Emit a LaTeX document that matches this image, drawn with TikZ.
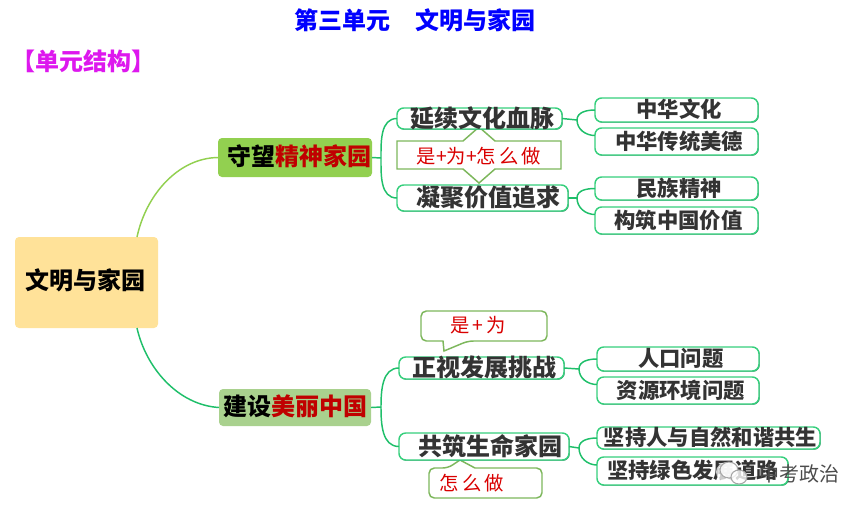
\documentclass[tikz,border=0pt]{standalone}
\usepackage{fontspec}
\setmainfont{Noto Sans CJK SC}
\usetikzlibrary{shadows,shapes.geometric}
\definecolor{kidgreen}{HTML}{35CF7C}
\definecolor{kiddark}{HTML}{24805A}
\definecolor{cbgreen}{HTML}{7DB75C}
\definecolor{rootfill}{HTML}{FFE299}
\definecolor{upfill}{HTML}{92D050}
\definecolor{lowfill}{HTML}{A9D18E}
\definecolor{linelow}{HTML}{1FBF6A}
\definecolor{darkred}{HTML}{C00000}
\definecolor{ink}{HTML}{333333}
\definecolor{magentatitle}{HTML}{DD18EE}
\newcommand{\T}[1]{\smash{\raisebox{-.36em}{#1}}}
\newcommand{\fa}{\fontsize{18}{20}\selectfont\bfseries}
\newcommand{\fb}{\fontsize{16}{18}\selectfont\bfseries}
\newcommand{\bx}[7]{\node[#1,minimum width={(#4-#3)*0.75pt},minimum height={(#6-#5)*0.75pt}] (#2) at ({(#3+#4)/2},{(#5+#6)/2}) {\T{#7}};}
\tikzset{
  x=0.75pt,y=-0.75pt,
  base/.style={inner sep=0pt,outer sep=0pt},
  kid/.style={base,draw=kidgreen,line width=1.1pt,fill=white,rounded corners=5pt,text=ink,
    general shadow={fill=kiddark,shadow xshift=.55pt,shadow yshift=-.55pt}},
  topic/.style={base,rounded corners=3pt},
  conn/.style={line width=1.1pt,draw=linelow},
  cb/.style={draw=cbgreen,line width=1.1pt,fill=white},
  redtxt/.style={base,text=red!85!black,font=\fontsize{14.5}{16}\selectfont},
}
\begin{document}
\begin{tikzpicture}
\useasboundingbox (0,0) rectangle (867,512);
% titles
\node[base,text=blue,font=\fa] (title) at (415,21) {\T{第三单元\hspace{1.08em}文明与家园}};
\node[base,text=magentatitle,font=\fa] (unit) at (84,62) {\T{【单元结构】}};
% topics
\bx{topic,fill=rootfill}{root}{15}{158}{237}{328}{\raisebox{-1.5pt}{\hspace*{-2pt}\fa\textcolor{black}{文明与家园}}}
\bx{topic,fill=upfill}{up}{218}{372}{138}{177}{\raisebox{-2.2pt}{\hspace*{6pt}\fa\textcolor{black}{守望}\textcolor{darkred}{精神家园}}}
\bx{topic,fill=lowfill}{low}{219}{371}{389}{426}{\raisebox{-2.6pt}{\fa\textcolor{black}{建设}\textcolor{darkred}{美丽中国}}}
% root connectors
\draw[line width=1.1pt,draw=upfill] ([xshift=-15.75pt]root.north east) .. controls (146,195) and (178,158) .. (up.west);
\draw[conn] ([xshift=-15.75pt]root.south east) .. controls (146,368) and (178,405) .. (low.west);
% callout behind nodes
\draw[cb] (397,141) -- (463,141) -- (479,127) -- (495,141) -- (561,141) -- (561,169) -- (495,169) -- (479,183) -- (463,169) -- (397,169) -- cycle;
\node[redtxt] (how1) at (479,157) {\T{是+为+怎\,么\,做}};
\draw[cb,rounded corners=4pt] (421,311) -- (547,311) -- (547,341) -- (468,341) [sharp corners] -- (444,351) -- (443,341) [rounded corners=4pt] -- (421,341) -- cycle;
\node[redtxt] (how2) at (478,326) {\T{是\,+\,为}};
\draw[cb,rounded corners=4pt] (429,468) -- (448,468) [sharp corners] -- (460,460) -- (475,468) [rounded corners=4pt] -- (542,468) -- (542,498) -- (429,498) -- cycle;
\node[redtxt] (how3) at (472,484) {\T{怎\,么\,做}};
% second level
\bx{kid,font=\fa}{a}{397}{562}{108}{129}{\hspace*{5pt}延续文化血脉}
\bx{kid,font=\fa}{b}{397}{568}{185}{211}{\hspace*{9pt}凝聚价值追求}
\bx{kid,font=\fa}{c}{399}{564}{357}{379}{\hspace*{4pt}正视发展挑战}
\bx{kid,font=\fa}{d}{399}{569}{433}{460}{\hspace*{9pt}共筑生命家园}
% third level
\bx{kid,font=\fb}{a1}{595}{758}{98}{122}{\hspace*{4pt}中华文化}
\bx{kid,font=\fb}{a2}{595}{758}{128}{155}{\hspace*{4pt}中华传统美德}
\bx{kid,font=\fb}{b1}{595}{758}{177}{200}{\hspace*{4pt}民族精神}
\bx{kid,font=\fb}{b2}{595}{758}{207}{234}{\hspace*{3pt}构筑中国价值}
\bx{kid,font=\fb}{c1}{597}{759}{347}{371}{\hspace*{4pt}人口问题}
\bx{kid,font=\fb}{c2}{597}{759}{377}{404}{\hspace*{4pt}资源环境问题}
\bx{kid,font=\fb}{d1}{597}{820}{427}{449}{\hspace*{3pt}坚持人与自然和谐共生}
\bx{kid,font=\fb}{d2}{597}{788}{457}{485}{坚持绿色发展道路}
% junctions
\coordinate (ju) at (381,158);
\coordinate (jl) at (381,407);
\coordinate (ja) at (577,120);
\coordinate (jb) at (577,198);
\coordinate (jc) at (579,369);
\coordinate (jd) at (579,448);
\draw[conn] (up.east) -- (ju);
\draw[conn] (low.east) -- (jl);
\draw[conn] (ju) to[out=90,in=180] (a.west);
\draw[conn] (ju) to[out=-90,in=180] (b.west);
\draw[conn] (jl) to[out=90,in=180] (c.west);
\draw[conn] (jl) to[out=-90,in=180] (d.west);
\draw[conn] (a.east) -- (ja);
\draw[conn] (b.east) -- (jb);
\draw[conn] (c.east) -- (jc);
\draw[conn] (d.east) -- (jd);
\draw[conn] (ja) to[out=90,in=180] (a1.west);
\draw[conn] (ja) to[out=-90,in=180] ([yshift=4.5pt]a2.west);
\draw[conn] (jb) to[out=90,in=180] (b1.west);
\draw[conn] (jb) to[out=-90,in=180] ([yshift=4.5pt]b2.west);
\draw[conn] (jc) to[out=90,in=180] (c1.west);
\draw[conn] (jc) to[out=-90,in=180] ([yshift=4.5pt]c2.west);
\draw[conn] (jd) to[out=90,in=180] (d1.west);
\draw[conn] (jd) to[out=-90,in=180] ([yshift=4.5pt]d2.west);
% watermark
\fill[white,opacity=.75] (727,472) ellipse [x radius=11,y radius=10];
\draw[gray!70,line width=.8pt,fill=white,fill opacity=.8] (729,470) ellipse [x radius=9,y radius=8];
\draw[gray!70,line width=.8pt,fill=white,fill opacity=.8] (739,477) ellipse [x radius=8,y radius=7];
\node[base,text=black!70,font=\fontsize{15}{17}\selectfont] (mark) at (799,474) {\T{中考政治}};
\end{tikzpicture}
\end{document}
